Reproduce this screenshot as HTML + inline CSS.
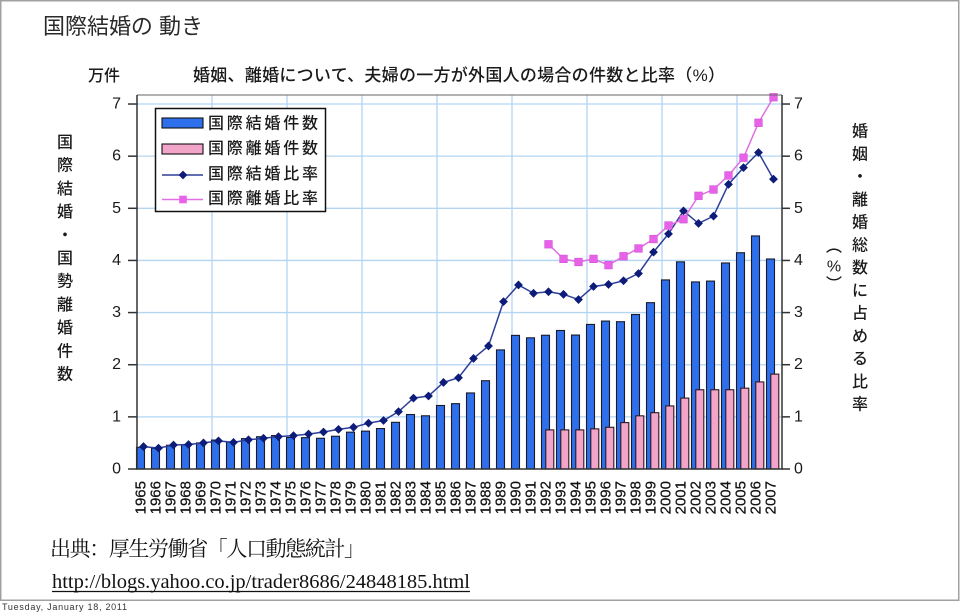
<!DOCTYPE html>
<html><head><meta charset="utf-8">
<style>
html,body{margin:0;padding:0;background:#fff;}
svg{display:block;}
.jp{font-family:"Liberation Sans","Noto Sans CJK JP",sans-serif;font-weight:500;}
.num{font-family:"Liberation Sans",sans-serif;}
.serif{font-family:"Liberation Serif","Noto Serif CJK SC",serif;}
</style></head>
<body>
<svg width="960" height="612" viewBox="0 0 960 612" xmlns="http://www.w3.org/2000/svg">
<defs>
<marker id="dm" markerUnits="userSpaceOnUse" markerWidth="10" markerHeight="10" refX="5" refY="5" overflow="visible"><path d="M5 0.6 L9.4 5 L5 9.4 L0.6 5Z" fill="#0c1c78"/></marker>
<marker id="sq" markerUnits="userSpaceOnUse" markerWidth="10" markerHeight="10" refX="5" refY="5" overflow="visible"><rect x="1.2" y="1.2" width="7.6" height="7.6" fill="#e862e8" stroke="#d050d8" stroke-width="0.6"/></marker>
</defs>
<rect x="0.75" y="0.75" width="958" height="599.5" fill="#fff" stroke="#a0a0a0" stroke-width="1.5"/>

<text class="jp" x="43" y="34" font-size="22" fill="#2a2a2a" textLength="160" lengthAdjust="spacing" style="font-weight:400">国際結婚の 動き</text>
<text class="jp" x="88" y="81" font-size="16" fill="#1a1a1a">万件</text>
<text class="jp" x="193" y="81" font-size="17" fill="#1a1a1a" textLength="532" lengthAdjust="spacing">婚姻、離婚について、夫婦の一方が外国人の場合の件数と比率（%）</text>

<!-- gridlines -->
<g stroke="#b3d5f2" stroke-width="1.3">
<line x1="137" y1="416.86" x2="782" y2="416.86"/>
<line x1="137" y1="364.72" x2="782" y2="364.72"/>
<line x1="137" y1="312.58" x2="782" y2="312.58"/>
<line x1="137" y1="260.44" x2="782" y2="260.44"/>
<line x1="137" y1="208.3" x2="782" y2="208.3"/>
<line x1="137" y1="156.16" x2="782" y2="156.16"/>
<line x1="137" y1="104.02" x2="782" y2="104.02"/>
<line x1="212" y1="95" x2="212" y2="469"/>
<line x1="287" y1="95" x2="287" y2="469"/>
<line x1="362" y1="95" x2="362" y2="469"/>
<line x1="437" y1="95" x2="437" y2="469"/>
<line x1="512" y1="95" x2="512" y2="469"/>
<line x1="587" y1="95" x2="587" y2="469"/>
<line x1="662" y1="95" x2="662" y2="469"/>
<line x1="737" y1="95" x2="737" y2="469"/>
</g>

<!-- blue bars -->
<g fill="#2e6fec" stroke="#1a1a2a" stroke-width="1.1">
<rect x="136.5" y="447.33" width="8" height="21.67"/>
<rect x="151.5" y="448.27" width="8" height="20.73"/>
<rect x="166.5" y="445.26" width="8" height="23.74"/>
<rect x="181.5" y="444.86" width="8" height="24.14"/>
<rect x="196.5" y="442.9" width="8" height="26.1"/>
<rect x="211.5" y="440.08" width="8" height="28.92"/>
<rect x="226.5" y="442.07" width="8" height="26.93"/>
<rect x="241.5" y="438.61" width="8" height="30.39"/>
<rect x="256.5" y="436.72" width="8" height="32.28"/>
<rect x="271.5" y="435.59" width="8" height="33.41"/>
<rect x="286.5" y="437.48" width="8" height="31.52"/>
<rect x="301.5" y="437.63" width="8" height="31.37"/>
<rect x="316.5" y="438.29" width="8" height="30.71"/>
<rect x="331.5" y="436.26" width="8" height="32.74"/>
<rect x="346.5" y="432.17" width="8" height="36.83"/>
<rect x="361.5" y="431.14" width="8" height="37.86"/>
<rect x="376.5" y="428.56" width="8" height="40.44"/>
<rect x="391.5" y="422.32" width="8" height="46.68"/>
<rect x="406.5" y="414.51" width="8" height="54.49"/>
<rect x="421.5" y="415.78" width="8" height="53.22"/>
<rect x="436.5" y="405.49" width="8" height="63.51"/>
<rect x="451.5" y="403.67" width="8" height="65.33"/>
<rect x="466.5" y="392.96" width="8" height="76.04"/>
<rect x="481.5" y="380.71" width="8" height="88.29"/>
<rect x="496.5" y="349.9" width="8" height="119.1"/>
<rect x="511.5" y="335.39" width="8" height="133.61"/>
<rect x="526.5" y="337.82" width="8" height="131.18"/>
<rect x="541.5" y="335.25" width="8" height="133.75"/>
<rect x="556.5" y="330.49" width="8" height="138.51"/>
<rect x="571.5" y="335.04" width="8" height="133.96"/>
<rect x="586.5" y="324.43" width="8" height="144.57"/>
<rect x="601.5" y="321.07" width="8" height="147.93"/>
<rect x="616.5" y="321.7" width="8" height="147.3"/>
<rect x="631.5" y="314.48" width="8" height="154.52"/>
<rect x="646.5" y="302.67" width="8" height="166.33"/>
<rect x="661.5" y="279.92" width="8" height="189.08"/>
<rect x="676.5" y="261.86" width="8" height="207.14"/>
<rect x="691.5" y="281.93" width="8" height="187.07"/>
<rect x="706.5" y="281.09" width="8" height="187.91"/>
<rect x="721.5" y="262.99" width="8" height="206.01"/>
<rect x="736.5" y="252.72" width="8" height="216.28"/>
<rect x="751.5" y="235.93" width="8" height="233.07"/>
<rect x="766.5" y="259.02" width="8" height="209.98"/>
</g>

<!-- pink bars -->
<g fill="#f3a4c9" stroke="#2a1a22" stroke-width="1.1">
<rect x="545.8" y="429.89" width="8" height="39.11"/>
<rect x="560.8" y="429.89" width="8" height="39.11"/>
<rect x="575.8" y="429.89" width="8" height="39.11"/>
<rect x="590.8" y="428.85" width="8" height="40.15"/>
<rect x="605.8" y="427.29" width="8" height="41.71"/>
<rect x="620.8" y="422.6" width="8" height="46.4"/>
<rect x="635.8" y="415.82" width="8" height="53.18"/>
<rect x="650.8" y="412.69" width="8" height="56.31"/>
<rect x="665.8" y="405.91" width="8" height="63.09"/>
<rect x="680.8" y="398.09" width="8" height="70.91"/>
<rect x="695.8" y="389.75" width="8" height="79.25"/>
<rect x="710.8" y="389.75" width="8" height="79.25"/>
<rect x="725.8" y="389.75" width="8" height="79.25"/>
<rect x="740.8" y="388.18" width="8" height="80.82"/>
<rect x="755.8" y="381.93" width="8" height="87.07"/>
<rect x="770.8" y="374.11" width="8" height="94.89"/>
</g>

<!-- lines -->
<polyline fill="none" stroke="#2d3f98" stroke-width="1.5" marker-start="url(#dm)" marker-mid="url(#dm)" marker-end="url(#dm)"
points="143.5,446.58 158.5,448.14 173.5,445.02 188.5,444.49 203.5,442.93 218.5,440.84 233.5,442.41 248.5,439.8 263.5,438.24 278.5,436.67 293.5,435.63 308.5,434.07 323.5,431.98 338.5,429.37 353.5,427.29 368.5,423.12 383.5,420.51 398.5,411.65 413.5,398.09 428.5,396 443.5,382.45 458.5,377.76 473.5,358.46 488.5,345.95 503.5,301.63 518.5,284.95 533.5,293.29 548.5,291.72 563.5,294.33 578.5,299.55 593.5,286.51 608.5,284.42 623.5,280.77 638.5,273.48 653.5,252.1 668.5,233.85 683.5,210.91 698.5,223.42 713.5,216.12 728.5,184.32 743.5,167.63 758.5,152.51 773.5,179.1"/>
<polyline fill="none" stroke="#e070e2" stroke-width="1.5" marker-start="url(#sq)" marker-mid="url(#sq)" marker-end="url(#sq)"
points="548.5,244.28 563.5,258.88 578.5,262 593.5,258.88 608.5,265.13 623.5,256.27 638.5,248.45 653.5,239.06 668.5,225.51 683.5,219.25 698.5,195.79 713.5,189.53 728.5,175.45 743.5,157.72 758.5,122.79 773.5,97.24"/>

<!-- axes -->
<g stroke="#333" stroke-width="1.5" fill="none">
<line x1="137" y1="95" x2="782" y2="95" stroke="#666" stroke-width="1"/>
<line x1="137" y1="95" x2="137" y2="469.5"/>
<line x1="782" y1="95" x2="782" y2="469.5"/>
<line x1="136" y1="469" x2="783" y2="469"/>
<line x1="128" y1="469" x2="137" y2="469"/>
<line x1="128" y1="416.86" x2="137" y2="416.86"/>
<line x1="128" y1="364.72" x2="137" y2="364.72"/>
<line x1="128" y1="312.58" x2="137" y2="312.58"/>
<line x1="128" y1="260.44" x2="137" y2="260.44"/>
<line x1="128" y1="208.3" x2="137" y2="208.3"/>
<line x1="128" y1="156.16" x2="137" y2="156.16"/>
<line x1="128" y1="104.02" x2="137" y2="104.02"/>
<line x1="782" y1="469" x2="790" y2="469"/>
<line x1="782" y1="416.86" x2="790" y2="416.86"/>
<line x1="782" y1="364.72" x2="790" y2="364.72"/>
<line x1="782" y1="312.58" x2="790" y2="312.58"/>
<line x1="782" y1="260.44" x2="790" y2="260.44"/>
<line x1="782" y1="208.3" x2="790" y2="208.3"/>
<line x1="782" y1="156.16" x2="790" y2="156.16"/>
<line x1="782" y1="104.02" x2="790" y2="104.02"/>
</g>

<!-- y tick labels -->
<g class="num" font-size="16" fill="#1a1a1a" text-anchor="end" dominant-baseline="central">
<text x="121" y="469">0</text>
<text x="121" y="416.86">1</text>
<text x="121" y="364.72">2</text>
<text x="121" y="312.58">3</text>
<text x="121" y="260.44">4</text>
<text x="121" y="208.3">5</text>
<text x="121" y="156.16">6</text>
<text x="121" y="104.02">7</text>
</g>
<g class="num" font-size="16" fill="#1a1a1a" dominant-baseline="central">
<text x="794" y="469">0</text>
<text x="794" y="416.86">1</text>
<text x="794" y="364.72">2</text>
<text x="794" y="312.58">3</text>
<text x="794" y="260.44">4</text>
<text x="794" y="208.3">5</text>
<text x="794" y="156.16">6</text>
<text x="794" y="104.02">7</text>
</g>

<!-- x labels -->
<g class="num" font-size="15" fill="#111" stroke="#111" stroke-width="0.25" text-anchor="end">
<text transform="translate(145.5,481) rotate(-90)">1965</text>
<text transform="translate(160.5,481) rotate(-90)">1966</text>
<text transform="translate(175.5,481) rotate(-90)">1967</text>
<text transform="translate(190.5,481) rotate(-90)">1968</text>
<text transform="translate(205.5,481) rotate(-90)">1969</text>
<text transform="translate(220.5,481) rotate(-90)">1970</text>
<text transform="translate(235.5,481) rotate(-90)">1971</text>
<text transform="translate(250.5,481) rotate(-90)">1972</text>
<text transform="translate(265.5,481) rotate(-90)">1973</text>
<text transform="translate(280.5,481) rotate(-90)">1974</text>
<text transform="translate(295.5,481) rotate(-90)">1975</text>
<text transform="translate(310.5,481) rotate(-90)">1976</text>
<text transform="translate(325.5,481) rotate(-90)">1977</text>
<text transform="translate(340.5,481) rotate(-90)">1978</text>
<text transform="translate(355.5,481) rotate(-90)">1979</text>
<text transform="translate(370.5,481) rotate(-90)">1980</text>
<text transform="translate(385.5,481) rotate(-90)">1981</text>
<text transform="translate(400.5,481) rotate(-90)">1982</text>
<text transform="translate(415.5,481) rotate(-90)">1983</text>
<text transform="translate(430.5,481) rotate(-90)">1984</text>
<text transform="translate(445.5,481) rotate(-90)">1985</text>
<text transform="translate(460.5,481) rotate(-90)">1986</text>
<text transform="translate(475.5,481) rotate(-90)">1987</text>
<text transform="translate(490.5,481) rotate(-90)">1988</text>
<text transform="translate(505.5,481) rotate(-90)">1989</text>
<text transform="translate(520.5,481) rotate(-90)">1990</text>
<text transform="translate(535.5,481) rotate(-90)">1991</text>
<text transform="translate(550.5,481) rotate(-90)">1992</text>
<text transform="translate(565.5,481) rotate(-90)">1993</text>
<text transform="translate(580.5,481) rotate(-90)">1994</text>
<text transform="translate(595.5,481) rotate(-90)">1995</text>
<text transform="translate(610.5,481) rotate(-90)">1996</text>
<text transform="translate(625.5,481) rotate(-90)">1997</text>
<text transform="translate(640.5,481) rotate(-90)">1998</text>
<text transform="translate(655.5,481) rotate(-90)">1999</text>
<text transform="translate(670.5,481) rotate(-90)">2000</text>
<text transform="translate(685.5,481) rotate(-90)">2001</text>
<text transform="translate(700.5,481) rotate(-90)">2002</text>
<text transform="translate(715.5,481) rotate(-90)">2003</text>
<text transform="translate(730.5,481) rotate(-90)">2004</text>
<text transform="translate(745.5,481) rotate(-90)">2005</text>
<text transform="translate(760.5,481) rotate(-90)">2006</text>
<text transform="translate(775.5,481) rotate(-90)">2007</text>
</g>

<!-- legend -->
<rect x="155.5" y="108.5" width="170" height="103" fill="#fff" stroke="#111" stroke-width="1.5"/>
<rect x="162" y="118" width="41" height="10" fill="#2e6fec" stroke="#111" stroke-width="1.1"/>
<rect x="162" y="144" width="41" height="10" fill="#f3a4c9" stroke="#111" stroke-width="1.1"/>
<line x1="162" y1="175" x2="203" y2="175" stroke="#2d3f98" stroke-width="1.5"/>
<path d="M183 170.6 L187.4 175 L183 179.4 L178.6 175Z" fill="#0c1c78"/>
<line x1="162" y1="199.5" x2="203" y2="199.5" stroke="#e070e2" stroke-width="1.5"/>
<rect x="179.2" y="195.7" width="7.6" height="7.6" fill="#e862e8"/>
<g class="jp" font-size="16" fill="#1a1a1a" dominant-baseline="central">
<text x="208" y="124" textLength="110" lengthAdjust="spacing">国際結婚件数</text>
<text x="208" y="149" textLength="110" lengthAdjust="spacing">国際離婚件数</text>
<text x="208" y="174.5" textLength="110" lengthAdjust="spacing">国際結婚比率</text>
<text x="208" y="199" textLength="110" lengthAdjust="spacing">国際離婚比率</text>
</g>

<!-- left vertical axis title -->
<g class="jp" font-size="16" fill="#1a1a1a" text-anchor="middle" dominant-baseline="central">
<text x="65" y="143">国</text>
<text x="65" y="166.2">際</text>
<text x="65" y="189.4">結</text>
<text x="65" y="212.6">婚</text>
<text x="65" y="235.8">・</text>
<text x="65" y="259">国</text>
<text x="65" y="282.2">勢</text>
<text x="65" y="305.4">離</text>
<text x="65" y="328.6">婚</text>
<text x="65" y="351.8">件</text>
<text x="65" y="375">数</text>
</g>

<!-- right vertical axis title -->
<g class="jp" font-size="16" fill="#1a1a1a" text-anchor="middle" dominant-baseline="central">
<text x="860" y="132">婚</text>
<text x="860" y="154.75">姻</text>
<text x="860" y="177.5">・</text>
<text x="860" y="200.25">離</text>
<text x="860" y="223">婚</text>
<text x="860" y="245.75">総</text>
<text x="860" y="268.5">数</text>
<text x="860" y="291.25">に</text>
<text x="860" y="314">占</text>
<text x="860" y="336.75">め</text>
<text x="860" y="359.5">る</text>
<text x="860" y="382.25">比</text>
<text x="860" y="405">率</text>
<text x="834" y="247">︵</text>
<text x="834" y="267">%</text>
<text x="834" y="285">︶</text>
</g>

<!-- source -->
<text class="serif" x="50" y="556" font-size="21" fill="#111" textLength="315" lengthAdjust="spacing">出典：厚生労働省「人口動態統計」</text>
<text class="serif" x="52" y="588" font-size="20.5" fill="#111" textLength="418" lengthAdjust="spacing">http://blogs.yahoo.co.jp/trader8686/24848185.html</text>
<line x1="52" y1="591.5" x2="470" y2="591.5" stroke="#111" stroke-width="1.2"/>

<text class="num" x="2" y="610" font-size="9" fill="#333" textLength="125" lengthAdjust="spacing">Tuesday, January 18, 2011</text>
</svg>
</body></html>
